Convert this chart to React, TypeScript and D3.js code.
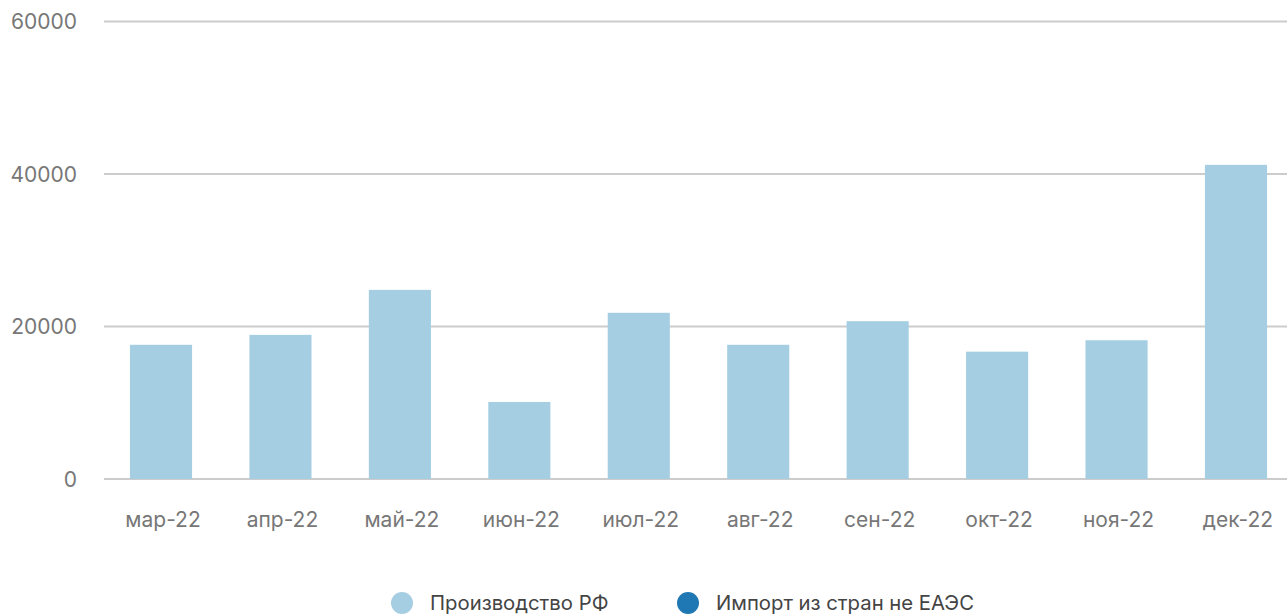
import React from "react";
import * as d3 from "d3";

const categories = ["мар-22", "апр-22", "май-22", "июн-22", "июл-22", "авг-22", "сен-22", "окт-22", "ноя-22", "дек-22"];
const productionRF = [17600, 18900, 24800, 10100, 21800, 17600, 20700, 16700, 18200, 41200];
const yTicks = [0, 20000, 40000, 60000];
const legendItems = ["Производство РФ", "Импорт из стран не ЕАЭС"];
const colors = ["#a6cee3", "#1f78b4"];

export default function App() {
  const W = 1287, H = 614;
  const x = d3.scaleBand<string>().domain(categories).range([101.3, 1295.7]).paddingInner(0.48).paddingOuter(0.24);
  const y = d3.scaleLinear().domain([0, 60000]).range([479, 21.5]);
  const font = "Inter, Roboto, sans-serif";
  return (
    <svg width={W} height={H} style={{ position: "absolute", left: 0, top: 0 }}>
      {yTicks.map((t) => (
        <g key={t}>
          <line x1={104} x2={1287} y1={y(t)} y2={y(t)} stroke="#cccccc" strokeWidth={2.2} />
          <text x={77} y={y(t)} dy="0.36em" textAnchor="end" fontFamily={font} fontSize={21} fill="#777">{t}</text>
        </g>
      ))}
      {categories.map((c, i) => (
        <rect key={c} x={x(c)} width={x.bandwidth()} y={y(productionRF[i])} height={y(0) - y(productionRF[i])} fill={colors[0]} />
      ))}
      {categories.map((c) => (
        <text key={c} x={(x(c) as number) + x.bandwidth() / 2 + 2} y={519} dy="0.36em" textAnchor="middle" fontFamily={font} fontSize={21} fill="#777">{c}</text>
      ))}
      {legendItems.map((l, i) => {
        const cx = i === 0 ? 402 : 688;
        return (
          <g key={l}>
            <circle cx={cx} cy={603} r={11} fill={colors[i]} />
            <text x={cx + 28} y={603} dy="0.36em" fontFamily={font} fontSize={20.3} fill="#444">{l}</text>
          </g>
        );
      })}
    </svg>
  );
}
